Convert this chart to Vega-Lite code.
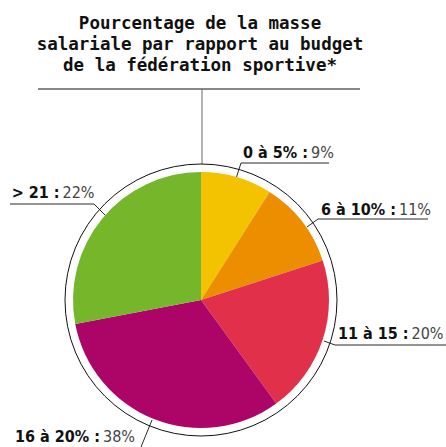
{
  "$schema": "https://vega.github.io/schema/vega-lite/v6.json",
  "width": 446,
  "height": 357,
  "autosize": {"type": "none"},
  "padding": {"top": 90, "left": 0, "right": 0, "bottom": 0},
  "background": "white",
  "title": {
    "text": ["Pourcentage de la masse", "salariale par rapport au budget", "de la fédération sportive*"],
    "font": "DejaVu Sans Mono",
    "fontWeight": "bold",
    "fontSize": 17.5,
    "lineHeight": 21,
    "color": "#111111",
    "anchor": "middle",
    "dx": -23,
    "offset": 14
  },
  "config": {"view": {"stroke": null}},
  "resolve": {"scale": {"color": "independent"}},
  "datasets": {
    "parts": [
      {"tranche": "0 à 5%", "part_annoncee": 9, "part_dessinee": 9, "ordre": 1},
      {"tranche": "6 à 10%", "part_annoncee": 11, "part_dessinee": 11, "ordre": 2},
      {"tranche": "11 à 15", "part_annoncee": 20, "part_dessinee": 20, "ordre": 3},
      {"tranche": "16 à 20%", "part_annoncee": 38, "part_dessinee": 32, "ordre": 4},
      {"tranche": "> 21", "part_annoncee": 22, "part_dessinee": 28, "ordre": 5}
    ],
    "etiquettes": [
      {"tete": "0 à 5% :", "pct": "9%", "jx": 309, "base": 158},
      {"tete": "6 à 10% :", "pct": "11%", "jx": 397, "base": 215},
      {"tete": "> 21 :", "pct": "22%", "jx": 60.5, "base": 198},
      {"tete": "11 à 15 :", "pct": "20%", "jx": 409.5, "base": 339},
      {"tete": "16 à 20% :", "pct": "38%", "jx": 101, "base": 442}
    ],
    "traits": [
      {"role": "titre", "x1": 38, "y1": 89, "x2": 360, "y2": 89},
      {"role": "repere", "x1": 202, "y1": 89, "x2": 202, "y2": 164},
      {"role": "renvoi", "x1": 241, "y1": 163, "x2": 329, "y2": 163},
      {"role": "renvoi", "x1": 236.5, "y1": 177, "x2": 241, "y2": 163},
      {"role": "renvoi", "x1": 318, "y1": 219, "x2": 428, "y2": 219},
      {"role": "renvoi", "x1": 307, "y1": 227, "x2": 318, "y2": 219},
      {"role": "renvoi", "x1": 10, "y1": 204, "x2": 94, "y2": 204},
      {"role": "renvoi", "x1": 94, "y1": 204, "x2": 106, "y2": 216},
      {"role": "renvoi", "x1": 324, "y1": 341, "x2": 335, "y2": 345},
      {"role": "renvoi", "x1": 335, "y1": 345, "x2": 446, "y2": 345},
      {"role": "renvoi", "x1": 141, "y1": 447, "x2": 152, "y2": 420}
    ]
  },
  "layer": [
    {
      "data": {"name": "traits"},
      "mark": {"type": "rule", "strokeWidth": 1},
      "encoding": {
        "x": {"field": "x1", "type": "quantitative", "scale": {"domain": [0, 446], "nice": false, "zero": false}, "axis": null},
        "y": {"field": "y1", "type": "quantitative", "scale": {"domain": [90, 447], "nice": false, "zero": false, "reverse": true}, "axis": null},
        "x2": {"field": "x2"},
        "y2": {"field": "y2"},
        "color": {
          "field": "role",
          "type": "nominal",
          "scale": {"domain": ["titre", "repere", "renvoi"], "range": ["#111111", "#6a6a6a", "#2a2a2a"]},
          "legend": null
        },
        "strokeWidth": {
          "field": "role",
          "type": "nominal",
          "scale": {"domain": ["titre", "repere", "renvoi"], "range": [1.2, 1.6, 1]},
          "legend": null
        }
      }
    },
    {
      "data": {"values": [{"contour": "cercle"}]},
      "mark": {"type": "point", "shape": "circle", "size": 73984, "filled": false, "stroke": "#111111", "strokeWidth": 1, "opacity": 1},
      "encoding": {
        "x": {"datum": 201, "type": "quantitative"},
        "y": {"datum": 300, "type": "quantitative"}
      }
    },
    {
      "data": {"name": "parts"},
      "mark": {"type": "arc", "outerRadius": 128},
      "encoding": {
        "x": {"datum": 201, "type": "quantitative"},
        "y": {"datum": 300, "type": "quantitative"},
        "theta": {"field": "part_dessinee", "type": "quantitative"},
        "order": {"field": "ordre", "type": "quantitative"},
        "color": {
          "field": "tranche",
          "type": "nominal",
          "scale": {
            "domain": ["0 à 5%", "6 à 10%", "11 à 15", "16 à 20%", "> 21"],
            "range": ["#F3C200", "#ED8E00", "#E1304A", "#AD0567", "#76B62A"]
          },
          "legend": null
        }
      }
    },
    {
      "data": {"name": "etiquettes"},
      "mark": {"type": "text", "align": "right", "baseline": "alphabetic", "font": "DejaVu Sans Condensed", "fontWeight": "bold", "fontSize": 16, "dx": -1, "color": "#111111"},
      "encoding": {
        "x": {"field": "jx", "type": "quantitative"},
        "y": {"field": "base", "type": "quantitative"},
        "text": {"field": "tete"}
      }
    },
    {
      "data": {"name": "etiquettes"},
      "mark": {"type": "text", "align": "left", "baseline": "alphabetic", "font": "DejaVu Sans Condensed", "fontWeight": "normal", "fontSize": 16, "dx": 2, "color": "#444444"},
      "encoding": {
        "x": {"field": "jx", "type": "quantitative"},
        "y": {"field": "base", "type": "quantitative"},
        "text": {"field": "pct"}
      }
    }
  ]
}
